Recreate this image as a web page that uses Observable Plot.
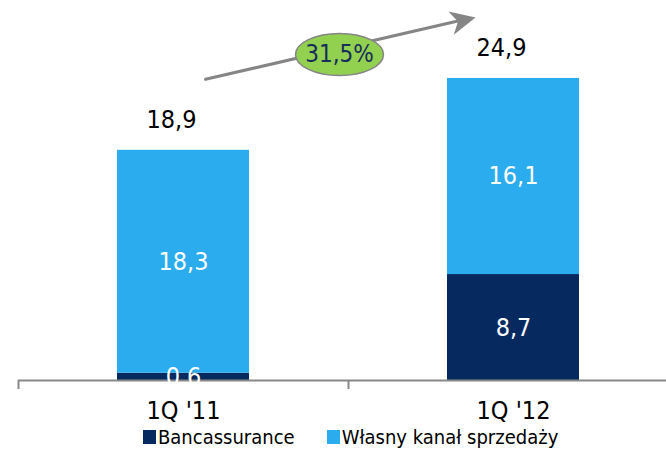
<!DOCTYPE html>
<html>
<head>
<meta charset="utf-8">
<script src="https://cdn.jsdelivr.net/npm/d3@7"></script>
<script src="https://cdn.jsdelivr.net/npm/@observablehq/plot@0.6"></script>
<style>
  html, body { margin: 0; padding: 0; background: #fff; }
  body { width: 666px; height: 474px; overflow: hidden; font-family: "DejaVu Sans Condensed", "DejaVu Sans", sans-serif; font-stretch: condensed; }
  #legend { display: flex; align-items: center; padding-left: 143px; margin-top: 5px; font-size: 20px; color: #000; }
  #legend .sw { width: 13px; height: 14px; margin-right: 2px; }
  #legend .item { display: flex; align-items: center; margin-right: 32px; }
</style>
</head>
<body>
<div id="chart"></div>
<div id="legend"></div>
<script>
// ---- data ----
const categories = ["1Q '11", "1Q '12"];
const series = ["Bancassurance", "Własny kanał sprzedaży"];
const bancassurance = [0.6, 8.7];
const wlasnyKanal = [18.3, 16.1];
const totals = [18.9, 24.9];
const growthLabel = "31,5%";
const colors = ["#062A5F", "#2AACEF"];

// annotation anchors (value units)
const arrowStart = 24.31, arrowEnd = 30.58, arrowTip = 29.8, bubbleY = 26.77;

const fmt = v => v.toFixed(1).replace(".", ",");

const rows = [];
categories.forEach((c, i) => {
  rows.push({q: c, s: series[0], v: bancassurance[i]});
  rows.push({q: c, s: series[1], v: wlasnyKanal[i]});
});
const totalRows = categories.map((c, i) => ({q: c, t: totals[i], top: bancassurance[i] + wlasnyKanal[i]}));

const ellipse = {
  draw(ctx) {
    const rx = 44, ry = 21, k = 0.5523;
    ctx.moveTo(rx, 0);
    ctx.bezierCurveTo(rx, ry * k, rx * k, ry, 0, ry);
    ctx.bezierCurveTo(-rx * k, ry, -rx, ry * k, -rx, 0);
    ctx.bezierCurveTo(-rx, -ry * k, -rx * k, -ry, 0, -ry);
    ctx.bezierCurveTo(rx * k, -ry, rx, -ry * k, rx, 0);
    ctx.closePath();
  }
};
const head = {
  draw(ctx) {
    ctx.moveTo(0, 0);
    ctx.lineTo(-25, -12);
    ctx.lineTo(-18, 0);
    ctx.lineTo(-25, 12);
    ctx.closePath();
  }
};

const FONT = "DejaVu Sans Condensed, DejaVu Sans, sans-serif";
const step = (678 - 18) / categories.length;

const chart = Plot.plot({
  width: 666,
  height: 420,
  marginLeft: 18,
  marginRight: 0,
  marginTop: 0,
  marginBottom: 40,
  style: {fontFamily: FONT, overflow: "visible", background: "transparent"},
  x: {domain: categories, range: [18, 678], paddingInner: 0.6, paddingOuter: 0.3, axis: null, label: null},
  y: {domain: [0, 31.2], range: [380, 0], axis: null},
  color: {domain: series, range: colors},
  marks: [
    Plot.barY(rows, {x: "q", y: "v", fill: "s"}),
    Plot.ruleY([0], {stroke: "#888888", strokeWidth: 2}),
    Plot.axisX({tickSize: 9, tickFormat: () => "", label: null, dx: -step / 2, stroke: "#888888", strokeWidth: 2}),
    Plot.axisX({tickSize: 0, tickPadding: 21, label: null, fontSize: 25, fill: "#000", fontFamily: FONT}),
    Plot.text(rows, Plot.stackY({x: "q", y: "v", z: "s", text: d => fmt(d.v), fill: "white", fontSize: 25, fontFamily: FONT})),
    Plot.text(totalRows, {x: "q", y: "top", text: d => fmt(d.t), dy: -30, dx: -12, fontSize: 25, fill: "#000", fontFamily: FONT}),
    Plot.arrow([0], {x1: () => categories[0], y1: () => arrowStart, x2: () => categories[1], y2: () => arrowEnd,
      insetStart: 22.6, insetEnd: 46, headLength: 0, stroke: "#858585", strokeWidth: 3}),
    Plot.dot([0], {x: () => categories[1], y: () => arrowTip, dx: -38, symbol: head, fill: "#858585", stroke: "none", rotate: -12.9}),
    Plot.dot([0], {x: () => categories[0], y: () => bubbleY, dx: 156, symbol: ellipse, fill: "#92D050", stroke: "#858585", strokeWidth: 1.5}),
    Plot.text([growthLabel], {x: () => categories[0], y: () => bubbleY, dx: 156, text: d => d, fontSize: 24, fill: "#172D5A", fontFamily: FONT})
  ]
});
document.getElementById("chart").appendChild(chart);

const legend = document.getElementById("legend");
series.forEach((s, i) => {
  const item = document.createElement("div");
  item.className = "item";
  const sw = document.createElement("div");
  sw.className = "sw";
  sw.style.background = colors[i];
  const lab = document.createElement("span");
  lab.textContent = s;
  item.appendChild(sw);
  item.appendChild(lab);
  legend.appendChild(item);
});
</script>
</body>
</html>
